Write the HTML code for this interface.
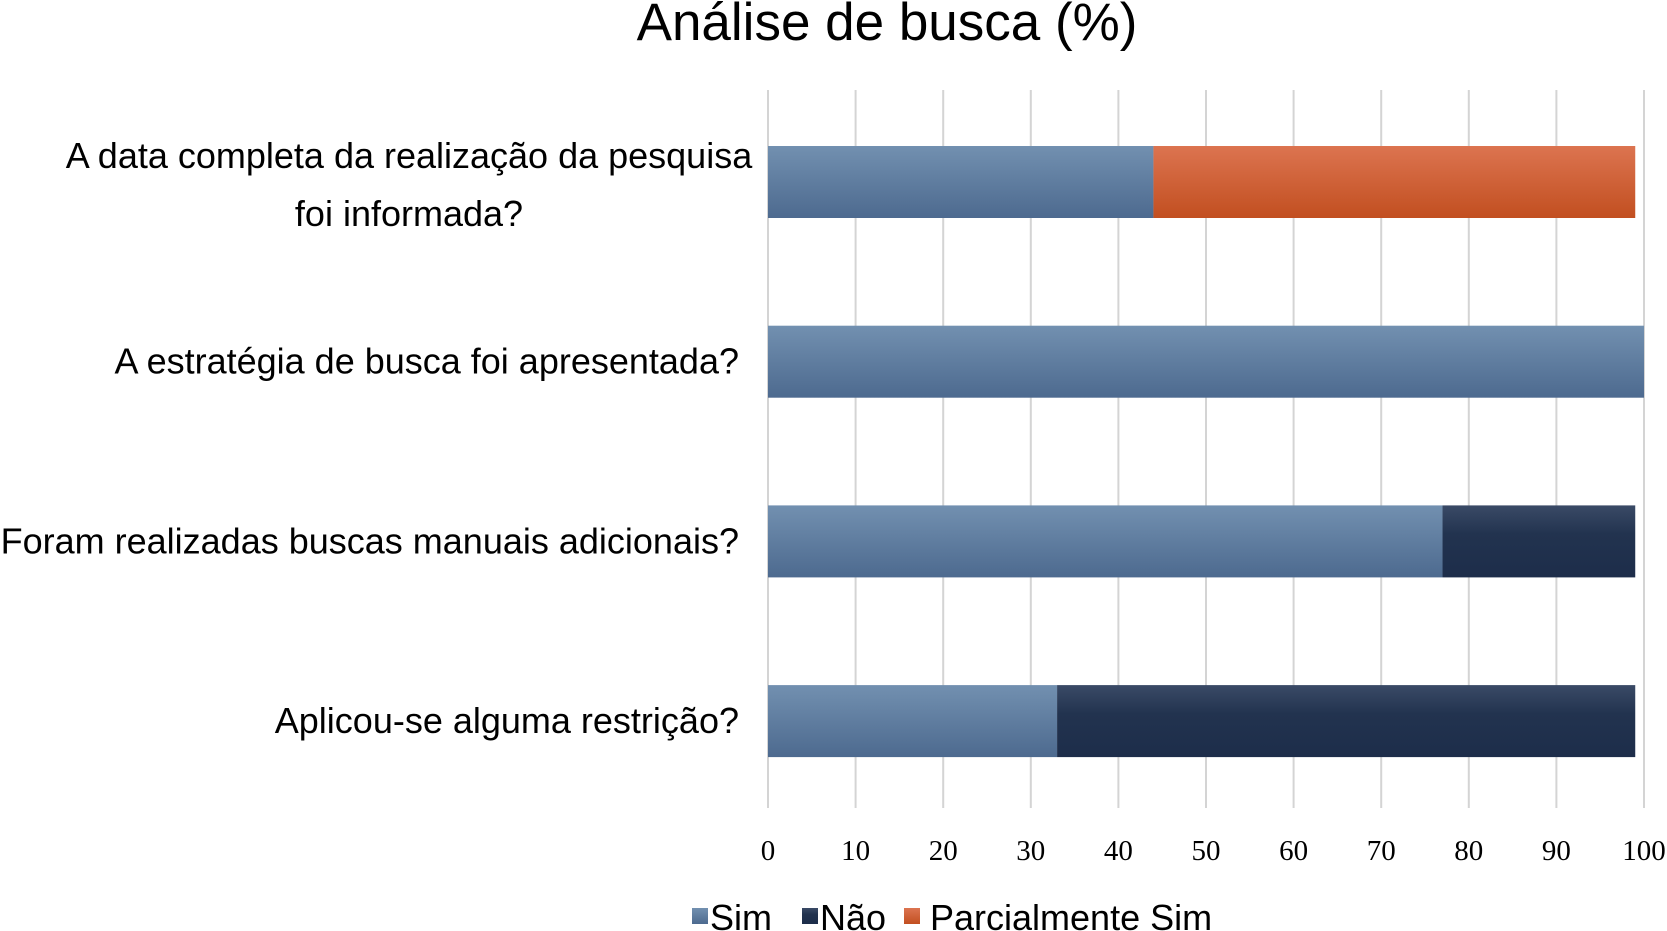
<!DOCTYPE html>
<html><head><meta charset="utf-8"><style>
html,body{margin:0;padding:0;background:#fff;}
svg{display:block;}
</style></head><body>
<svg id="chart" width="1667" height="931" viewBox="0 0 1667 931" xmlns="http://www.w3.org/2000/svg">
<defs>
<linearGradient id="gSim" x1="0" y1="0" x2="0" y2="1"><stop offset="0" stop-color="#7290b0"/><stop offset="1" stop-color="#4d6a8f"/></linearGradient>
<linearGradient id="gNao" x1="0" y1="0" x2="0" y2="1"><stop offset="0" stop-color="#3a4a66"/><stop offset="0.4" stop-color="#22334f"/><stop offset="1" stop-color="#1d2d4a"/></linearGradient>
<linearGradient id="gPar" x1="0" y1="0" x2="0" y2="1"><stop offset="0" stop-color="#dc7450"/><stop offset="1" stop-color="#c24f20"/></linearGradient>
</defs>
<text x="887" y="40" text-anchor="middle" font-family="Liberation Sans, sans-serif" font-size="53" fill="#000">Análise de busca (%)</text>
<g id="grid"></g>
<g id="bars"></g>
<g id="cats"></g>
<g id="ticks"></g>
<g font-family="Liberation Sans, sans-serif" font-size="36" fill="#000">
<rect x="692" y="908" width="16" height="16" fill="url(#gSim)"/>
<text x="710" y="930">Sim</text>
<rect x="802" y="908" width="16" height="16" fill="url(#gNao)"/>
<text x="820" y="930">Não</text>
<rect x="904" y="908" width="16" height="16" fill="url(#gPar)"/>
<text x="930" y="930">Parcialmente Sim</text>
</g>
</svg>
<script>
const categories = [
  ["A data completa da realização da pesquisa","foi informada?"],
  ["A estratégia de busca foi apresentada?"],
  ["Foram realizadas buscas manuais adicionais?"],
  ["Aplicou-se alguma restrição?"]
];
const simValues = [44, 100, 77, 33];
const naoValues = [0, 0, 22, 66];
const parcialValues = [55, 0, 0, 0];
const tickValues = [0,10,20,30,40,50,60,70,80,90,100];

const NS = "http://www.w3.org/2000/svg";
const x0 = 768, x1 = 1644;
function xScale(v){ return x0 + (x1 - x0) * v / 100; }
const rowTop = 146, rowStep = 179.7, barH = 72;
function yScale(i){ return rowTop + i * rowStep; }
function mk(tag, attrs, parent){ const e=document.createElementNS(NS,tag); for(const k in attrs) e.setAttribute(k,attrs[k]); parent.appendChild(e); return e; }

const grid = document.getElementById('grid');
const ticks = document.getElementById('ticks');
tickValues.forEach(t => {
  const l = mk('line',{x1:xScale(t),x2:xScale(t),y1:90,y2:808,stroke:'#d4d4d4','stroke-width':2},grid);
  
  
  const tx = mk('text',{x:xScale(t),y:860,'text-anchor':'middle','font-family':'Liberation Serif, serif','font-size':29,fill:'#000'},ticks);
  tx.textContent = t;
  
  
});

const bars = document.getElementById('bars');
categories.forEach((c,i) => {
  const y = yScale(i);
  let acc = 0;
  [[simValues,'url(#gSim)','bar-sim'],[naoValues,'url(#gNao)','bar-nao'],[parcialValues,'url(#gPar)','bar-parcial']].forEach(([arr,fill,name]) => {
    const v = arr[i];
    if (v > 0) {
      const r = mk('rect',{x:xScale(acc),y:y,width:xScale(acc+v)-xScale(acc),height:barH,fill:fill},bars);
      
      
    }
    acc += v;
  });
});

const cats = document.getElementById('cats');
categories.forEach((c,i) => {
  const cy = yScale(i) + barH/2;
  const t = mk('text',{'font-family':'Liberation Sans, sans-serif','font-size':36,fill:'#000'},cats);
  
  
  if (c.length === 2) {
    t.setAttribute('text-anchor','middle');
    c.forEach((line,j) => {
      const s = mk('tspan',{x:409,y:cy - 14 + j*58},t);
      s.textContent = line;
    });
  } else {
    t.setAttribute('text-anchor','end');
    t.setAttribute('x',739);
    t.setAttribute('y',cy+12);
    t.textContent = c[0];
  }
});
</script>
</body></html>
